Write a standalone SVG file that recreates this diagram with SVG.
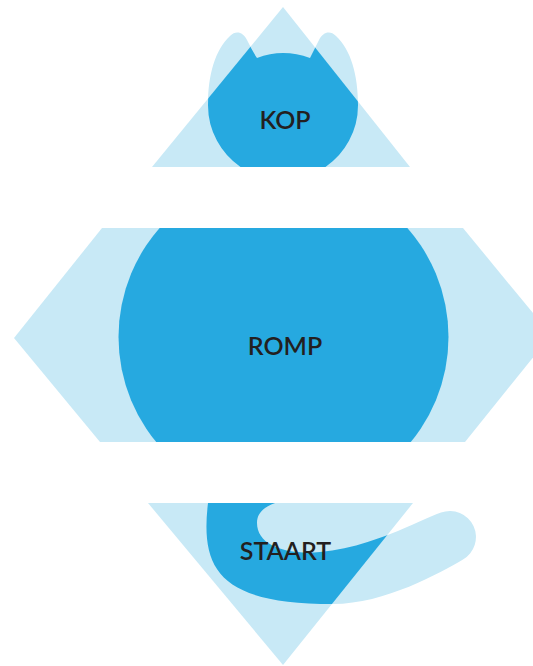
<svg xmlns="http://www.w3.org/2000/svg" width="533" height="666" viewBox="0 0 533 666">
  <style>
    .light { fill: #c8e9f6; }
    .dark { fill: #26a9e0; }
    .label { font-family: "Lato", "Liberation Sans", sans-serif; font-size: 25px; font-weight: 600; fill: #231f20; text-anchor: middle; }
  </style>
  <defs>
    <clipPath id="clipKopTri"><polygon points="283,7 410,167 152,167"/></clipPath>
    <clipPath id="clipKopBand"><rect x="0" y="0" width="533" height="167"/></clipPath>
    <clipPath id="clipRompHex"><polygon points="102,228 463,228 551,335 465,442 100,442 14,338"/></clipPath>
    <clipPath id="clipStaartTri"><polygon points="148,503 413,503 283,665"/></clipPath>
    <clipPath id="clipStaartBand"><rect x="0" y="503" width="533" height="163"/></clipPath>
    <path id="headShape" d="M 242,168 A 75 75 0 0 1 208,105 C 208,75 215,50 230,36 C 236,30 243,32 247,40 C 250,46 253,52 257,58 Q 283,48 310,58 C 313,52 316,46 319,40 C 323,32 330,30 336,36 C 351,50 358,75 358,105 A 75 75 0 0 1 324,168 Z"/>
    <path id="tailShape" d="M 208,495 L 208,503 C 200,570 220,604 333,604 C 385,604 440.5,572.5 463,559.5 A 26 26 0 0 0 441,512.6 C 417,521.5 370,548 320,552 C 285,555 257,545 257,523 C 257,512 265,505 285,500 L 285,495 Z"/>
  </defs>

  <g id="node-kop">
    <polygon class="light" points="283,7 410,167 152,167"/>
    <use href="#headShape" class="light" clip-path="url(#clipKopBand)"/>
    <use href="#headShape" class="dark" clip-path="url(#clipKopTri)"/>
    <text class="label" x="285" y="129">KOP</text>
  </g>

  <g id="node-romp">
    <polygon class="light" points="102,228 463,228 551,335 465,442 100,442 14,338"/>
    <circle class="dark" cx="283.5" cy="337" r="165" clip-path="url(#clipRompHex)"/>
    <text class="label" x="285" y="355">ROMP</text>
  </g>

  <g id="node-staart">
    <polygon class="light" points="148,503 413,503 283,665"/>
    <use href="#tailShape" class="light" clip-path="url(#clipStaartBand)"/>
    <use href="#tailShape" class="dark" clip-path="url(#clipStaartTri)"/>
    <text class="label" x="285.5" y="560">STAART</text>
  </g>
</svg>
